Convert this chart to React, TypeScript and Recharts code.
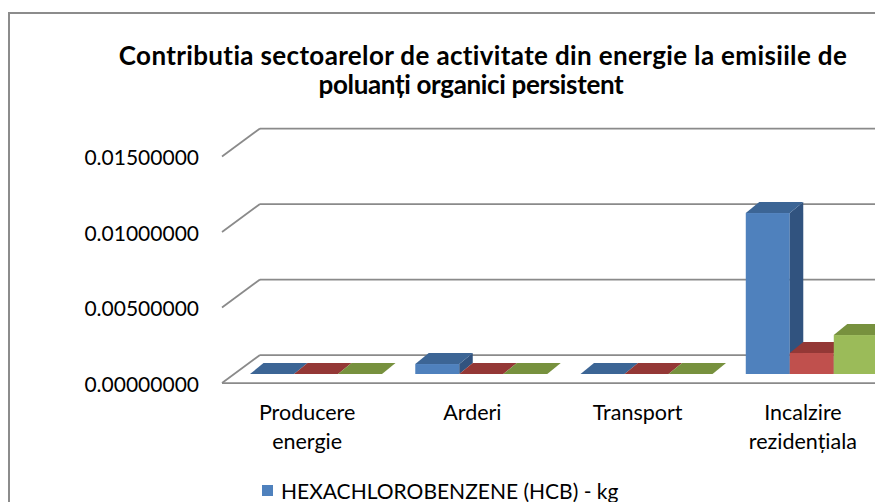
import React from "react";
import { BarChart, Bar, XAxis, YAxis, CartesianGrid } from "recharts";

const categories = ["Producere energie", "Arderi", "Transport", "Incalzire rezidențiala"];
const hcbValues = [0, 0.00066, 0, 0.01066];
const pcbValues = [0, 0, 0, 0.00139];
const pcddValues = [0, 0, 0, 0.00258];
const seriesNames = [
  "HEXACHLOROBENZENE (HCB) - kg",
  "PCB - kg",
  "PCDD/PCDF - g I-Teq",
];
const yTicks = [0, 0.005, 0.01, 0.015];
const titleLines = [
  "Contributia sectoarelor de activitate din energie la emisiile de",
  "poluanți organici persistent",
];

const data = categories.map((name, i) => ({
  name,
  s0: hcbValues[i],
  s1: pcbValues[i],
  s2: pcddValues[i],
}));

const FACES = [
  { front: "#4F81BD", top: "#3C6595", side: "#31537F" },
  { front: "#C0504D", top: "#943836", side: "#7C2F2D" },
  { front: "#9BBB59", top: "#77913E", side: "#637B33" },
];

const DX = 13.5;
const DY = 11;
const FRONT_DX = -11.5;
const FRONT_DY = 9;
const BACK_DX = 26.5;
const BACK_DY = -19;
const GRID = "#8a8a8a";
const FRAME = "#8c8c8c";
const FONT = "Lato, 'Open Sans', sans-serif";

function Box3D(props: any) {
  const { x, y, width, height, faces } = props;
  const w = width;
  const h = Math.max(0, height || 0);
  const top = `${x},${y} ${x + DX},${y - DY} ${x + w + DX},${y - DY} ${x + w},${y}`;
  const side = `${x + w},${y} ${x + w + DX},${y - DY} ${x + w + DX},${y + h - DY} ${x + w},${y + h}`;
  return (
    <g>
      {h > 0 && <rect x={x} y={y} width={w} height={h} fill={faces.front} />}
      {h > 0 && <polygon points={side} fill={faces.side} />}
      <polygon points={top} fill={faces.top} />
    </g>
  );
}

function GridLine3D(props: any) {
  const { x1, y1, x2, index } = props;
  const fx = x1 + FRONT_DX;
  const fy = y1 + FRONT_DY;
  const bx = x1 + BACK_DX;
  const by = y1 + BACK_DY;
  return (
    <g key={`g-${index}`}>
      <line x1={fx} y1={fy} x2={bx} y2={by} stroke={GRID} strokeWidth={1.75} />
      <line x1={bx} y1={by} x2={x2 + 300} y2={by} stroke={GRID} strokeWidth={1.75} />
      {y1 === props.bottomY && (
        <line x1={fx} y1={fy} x2={x2 + 300} y2={fy} stroke={GRID} strokeWidth={1.75} />
      )}
    </g>
  );
}

function YTick(props: any) {
  const { x, y, payload } = props;
  return (
    <text
      x={x - 34.5}
      y={y + FRONT_DY + 1}
      dy="0.36em"
      textAnchor="end"
      fontFamily={FONT}
      fontSize={21}
      fill="#000"
    >
      {Number(payload.value).toFixed(8)}
    </text>
  );
}

function XTick(props: any) {
  const { x, y, payload } = props;
  const lines = String(payload.value).split(" ");
  return (
    <text textAnchor="middle" fontFamily={FONT} fontSize={21.5} fill="#000">
      {lines.map((l, i) => (
        <tspan key={i} x={x - 9} y={y + 38 + i * 29} dy="0.36em">
          {l}
        </tspan>
      ))}
    </text>
  );
}

const PLOT_TOP = 139.5;
const PLOT_BOTTOM = 366;
const CHART_H = 494;
const CHART_W = 1000;
const X_AXIS_H = 60;

const titleLayout = [
  { center: 475, spacing: 0.35 },
  { center: 463, spacing: -0.35 },
];

export default function App() {
  return (
    <div
      style={{
        position: "fixed",
        left: 0,
        top: 0,
        width: 875,
        height: 502,
        overflow: "hidden",
        fontFamily: FONT,
        background: "#fff",
      }}
    >
      <div style={{ position: "absolute", left: 8, top: 12, width: 867, height: 2, background: FRAME }} />
      <div style={{ position: "absolute", left: 8, top: 12, width: 2, height: 490, background: FRAME }} />
      <div style={{ position: "absolute", left: 8, top: 8, width: 867, height: 494, overflow: "hidden" }}>
        {titleLines.map((t, i) => (
          <div
            key={i}
            style={{
              position: "absolute",
              left: titleLayout[i].center - 500,
              top: 33 + i * 29,
              width: 1000,
              textAlign: "center",
              fontWeight: 700,
              fontSize: 26,
              lineHeight: "29px",
              letterSpacing: titleLayout[i].spacing,
              color: "#000",
              whiteSpace: "nowrap",
            }}
          >
            {t}
          </div>
        ))}
        <div style={{ position: "absolute", left: 0, top: 0 }}>
          <BarChart
            width={CHART_W}
            height={CHART_H}
            data={data}
            margin={{
              top: PLOT_TOP,
              right: CHART_W - 886.5,
              bottom: CHART_H - PLOT_BOTTOM - X_AXIS_H,
              left: 0,
            }}
            barCategoryGap="10%"
            barGap={0}
          >
            <CartesianGrid
              vertical={false}
              horizontal={(p: any) => <GridLine3D {...p} bottomY={PLOT_BOTTOM} />}
            />
            <XAxis
              dataKey="name"
              height={X_AXIS_H}
              axisLine={false}
              tickLine={false}
              tickSize={0}
              tickMargin={0}
              interval={0}
              tick={(p: any) => <XTick {...p} />}
            />
            <YAxis
              width={225.5}
              domain={[0, 0.015]}
              ticks={yTicks}
              axisLine={false}
              tickLine={false}
              tickSize={0}
              tickMargin={0}
              tick={(p: any) => <YTick {...p} />}
            />
            {["s0", "s1", "s2"].map((k, i) => (
              <Bar
                key={k}
                dataKey={k}
                name={seriesNames[i]}
                fill={FACES[i].front}
                isAnimationActive={false}
                shape={(p: any) => <Box3D {...p} faces={FACES[i]} />}
              />
            ))}
          </BarChart>
        </div>
        <div style={{ position: "absolute", left: 254, top: 468 }}>
          {seriesNames.map((n, i) => (
            <div
              key={n}
              style={{
                display: "flex",
                alignItems: "center",
                height: 29,
                fontSize: 21,
                color: "#000",
                whiteSpace: "nowrap",
              }}
            >
              <span
                style={{
                  display: "inline-block",
                  width: 11,
                  height: 11,
                  background: FACES[i].front,
                  marginRight: 8,
                }}
              />
              {n}
            </div>
          ))}
        </div>
      </div>
    </div>
  );
}
